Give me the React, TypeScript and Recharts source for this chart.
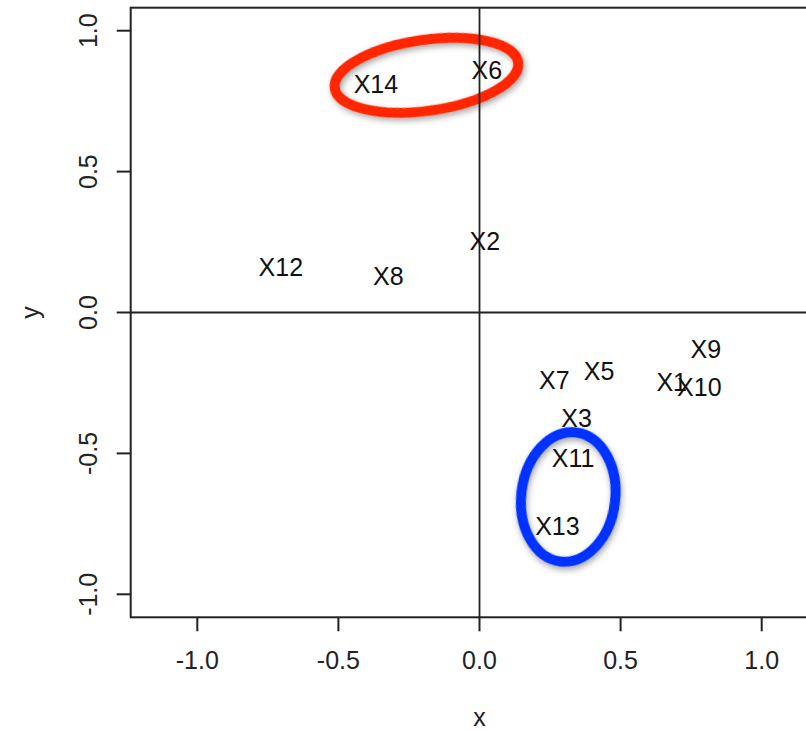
import { ScatterChart, Scatter, XAxis, YAxis, ReferenceLine, ReferenceArea } from 'recharts'

const labels = ['X1', 'X2', 'X3', 'X5', 'X6', 'X7', 'X8', 'X9', 'X10', 'X11', 'X12', 'X13', 'X14']
const xs = [0.681, 0.019, 0.344, 0.424, 0.026, 0.265, -0.323, 0.802, 0.779, 0.332, -0.704, 0.276, -0.367]
const ys = [-0.248, 0.255, -0.373, -0.207, 0.859, -0.238, 0.13, -0.128, -0.266, -0.516, 0.16, -0.758, 0.812]
const xTicks = [-1, -0.5, 0, 0.5, 1]
const yTicks = [-1, -0.5, 0, 0.5, 1]

// circles drawn round the two groups (data units, tilt in degrees)
const circled = [
  { id: 'red', x1: -0.516, x2: 0.14, y1: 0.716, y2: 0.968, tilt: -8, color: '#FF2600' },
  { id: 'blue', x1: 0.148, x2: 0.481, y1: -0.885, y2: -0.424, tilt: 7, color: '#0433FF' },
]

const points = labels.map((label, i) => ({ x: xs[i], y: ys[i], label }))

const FONT = '"Liberation Sans", Arial, Helvetica, sans-serif'
const INK = '#222'
const FS = 25

const XTick = (props: any) => (
  <text x={props.x} y={props.y} textAnchor="middle" fontFamily={FONT} fontSize={FS} fill={INK}>
    {Number(props.payload.value).toFixed(1)}
  </text>
)

const YTick = (props: any) => (
  <text
    x={props.x}
    y={props.y}
    transform={`rotate(-90 ${props.x} ${props.y})`}
    textAnchor="middle"
    fontFamily={FONT}
    fontSize={FS}
    fill={INK}
  >
    {Number(props.payload.value).toFixed(1)}
  </text>
)

const PointLabel = (props: any) => (
  <text x={props.cx} y={props.cy} dy={9} textAnchor="middle" fontFamily={FONT} fontSize={FS} fill="#111">
    {props.payload.label}
  </text>
)

const ellipseShape = (id: string, color: string, tilt: number) => (props: any) => {
  const cx = props.x + props.width / 2
  const cy = props.y + props.height / 2
  return (
    <g>
      <defs>
        <filter id={`shadow-${id}`} x="-30%" y="-30%" width="160%" height="160%">
          <feDropShadow dx="1.5" dy="3" stdDeviation="3" floodColor="#000" floodOpacity="0.35" />
        </filter>
      </defs>
      <ellipse
        cx={cx}
        cy={cy}
        rx={Math.abs(props.width) / 2}
        ry={Math.abs(props.height) / 2}
        transform={`rotate(${tilt} ${cx} ${cy})`}
        fill="none"
        stroke={color}
        strokeWidth={10}
        filter={`url(#shadow-${id})`}
      />
    </g>
  )
}

const boxShape = (props: any) => (
  <rect x={props.x} y={props.y} width={props.width} height={props.height} fill="none" stroke={INK} strokeWidth={2} />
)

export default function App() {
  return (
    <div style={{ position: 'absolute', left: 0, top: 0, width: 806, height: 731, overflow: 'hidden', background: '#fff' }}>
      <ScatterChart width={860} height={731} margin={{ top: 7.7, right: 31.7, left: 70.7, bottom: 53.7 }}>
        <XAxis
          type="number"
          dataKey="x"
          domain={[-1.236, 1.236]}
          ticks={xTicks}
          allowDataOverflow
          height={60}
          axisLine={false}
          tickSize={14}
          tickMargin={37.4}
          tickLine={{ stroke: INK, strokeWidth: 2 }}
          tick={<XTick />}
          label={{
            content: ({ viewBox }: any) => (
              <text x={viewBox.x + viewBox.width / 2} y={viewBox.y + 108.7} textAnchor="middle" fontFamily={FONT} fontSize={FS} fill={INK}>
                x
              </text>
            ),
          }}
        />
        <YAxis
          type="number"
          dataKey="y"
          domain={[-1.0816, 1.0816]}
          ticks={yTicks}
          allowDataOverflow
          width={60}
          axisLine={false}
          tickSize={14}
          tickMargin={20}
          tickLine={{ stroke: INK, strokeWidth: 2 }}
          tick={<YTick />}
          label={{
            content: ({ viewBox }: any) => {
              const lx = viewBox.x - 31.7
              const ly = viewBox.y + viewBox.height / 2
              return (
                <text x={lx} y={ly} transform={`rotate(-90 ${lx} ${ly})`} textAnchor="middle" fontFamily={FONT} fontSize={FS} fill={INK}>
                  y
                </text>
              )
            },
          }}
        />
        <ReferenceArea x1={-1.236} x2={1.236} y1={-1.0816} y2={1.0816} ifOverflow="visible" shape={boxShape} />
        <ReferenceLine x={0} stroke={INK} strokeWidth={1.8} />
        <ReferenceLine y={0} stroke={INK} strokeWidth={1.8} />
        {circled.map((c) => (
          <ReferenceArea
            key={c.id}
            x1={c.x1}
            x2={c.x2}
            y1={c.y1}
            y2={c.y2}
            ifOverflow="visible"
            shape={ellipseShape(c.id, c.color, c.tilt)}
          />
        ))}
        <Scatter data={points} shape={<PointLabel />} isAnimationActive={false} />
      </ScatterChart>
    </div>
  )
}
